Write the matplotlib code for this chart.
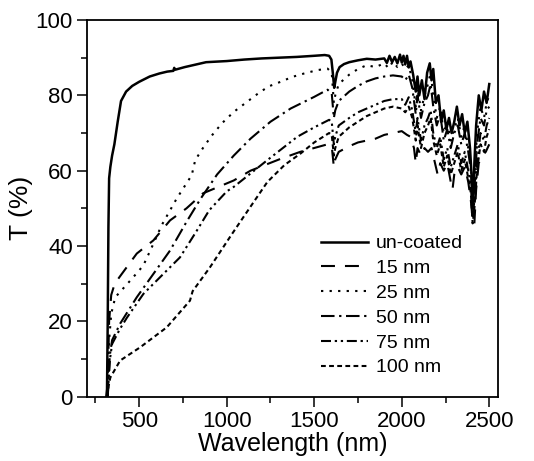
import matplotlib
matplotlib.use('Agg')
import matplotlib.pyplot as plt

plt.rcParams['font.family'] = ['Liberation Sans', 'DejaVu Sans']

# transmittance spectra (wavelength in nm, T in %)
uncoated_wl = [312, 316, 320, 324, 328, 335, 345, 358, 377, 396, 425, 460, 500, 560, 615, 660,
               695, 700, 705, 760, 882, 1000, 1100, 1200, 1300, 1400, 1500, 1560, 1585, 1598,
               1606, 1614, 1620, 1630, 1645, 1670, 1700, 1750, 1800, 1850, 1900, 1915, 1930, 1945,
               1960, 1975, 1990, 2000, 2010, 2020, 2030, 2040, 2050, 2065, 2080, 2090, 2100, 2115,
               2130, 2145, 2160, 2170, 2180, 2195, 2210, 2225, 2240, 2255, 2270, 2285, 2300, 2315,
               2330, 2345, 2360, 2375, 2390, 2400, 2408, 2415, 2425, 2440, 2455, 2470, 2485, 2500]
uncoated_t = [0, 2, 20, 45, 58, 61, 64, 67, 73, 78.5, 81, 82.5, 83.6, 85, 85.8, 86.3,
              86.5, 87.3, 86.8, 87.5, 88.8, 89.1, 89.5, 89.8, 90, 90.2, 90.5, 90.7, 90.5, 89.5,
              86, 82, 83.5, 86, 87.5, 88.3, 88.8, 89.3, 89.7, 89.5, 89.8, 88.6, 90.5, 88.8,
              90.2, 88.5, 90.8, 88.7, 90.5, 88.2, 90.5, 87.4, 89, 85.5, 81, 85, 80, 84,
              79, 86, 88.5, 84, 87, 78, 80, 73, 76, 71, 74, 70, 73, 77,
              72, 75, 70, 73, 66, 58, 50, 62, 72, 80, 76, 81, 78, 83]

nm15_wl = [318, 322, 328, 340, 360, 391, 486, 581, 676, 770, 865, 1040, 1136, 1300, 1420, 1576,
           1600, 1612, 1620, 1640, 1700, 1750, 1800, 1850, 1900, 1950, 2000, 2030, 2050, 2070,
           2080, 2090, 2110, 2130, 2150, 2170, 2190, 2205, 2220, 2240, 2260, 2280, 2290, 2300,
           2320, 2340, 2360, 2380, 2395, 2405, 2415, 2425, 2440, 2460, 2480, 2500]
nm15_t = [0, 8, 20, 27, 30, 32, 38, 41.5, 46.8, 50, 54, 57.4, 60, 63, 65, 67,
          66.5, 61, 63, 65, 66.5, 67.5, 68, 68.5, 69.5, 70, 70.5, 69.5, 69, 66,
          62, 66, 64, 66, 65, 66, 62, 59, 62, 60, 62, 57, 55, 59,
          61, 59, 61, 57, 52, 47, 46, 55, 62, 64, 65, 67]

nm25_wl = [318, 322, 328, 340, 363, 458, 523, 575, 628, 714, 800, 820, 868, 916, 973, 1040,
           1108, 1185, 1241, 1308, 1375, 1442, 1518, 1576, 1600, 1612, 1620, 1640, 1700, 1750,
           1800, 1850, 1900, 1925, 1950, 1975, 2000, 2020, 2040, 2060, 2080, 2090, 2110, 2130,
           2150, 2165, 2180, 2200, 2220, 2240, 2260, 2280, 2300, 2320, 2340, 2360, 2380, 2395,
           2405, 2415, 2430, 2450, 2470, 2485, 2500]
nm25_t = [0, 8, 15, 22, 26.4, 31.3, 34.8, 40, 45.5, 52.6, 58.8, 62.8, 66.3, 69.4, 72.6, 75.6,
          78, 80.7, 82.4, 83.6, 84.9, 85.8, 86.7, 87.1, 86, 78, 80, 83, 85.5, 87,
          88, 87.5, 88.5, 87.2, 89, 87.5, 88.5, 87, 88, 84, 77, 82, 76, 80,
          83, 86, 80, 74, 77, 70, 73, 68, 71, 74, 69, 72, 66, 62,
          52, 58, 70, 77, 74, 78, 80]

nm50_wl = [320, 326, 332, 345, 391, 486, 581, 676, 770, 850, 945, 1040, 1136, 1250, 1365, 1500,
           1576, 1600, 1612, 1620, 1640, 1700, 1750, 1800, 1850, 1900, 1950, 2000, 2020, 2040,
           2060, 2080, 2090, 2110, 2130, 2150, 2165, 2180, 2200, 2220, 2240, 2260, 2280, 2300,
           2320, 2340, 2360, 2380, 2395, 2405, 2415, 2430, 2450, 2470, 2485, 2500]
nm50_t = [0, 6, 11, 15, 19.4, 26.4, 32.6, 38.8, 46.4, 52.5, 59, 64, 68.5, 73, 76.5, 79.6,
          81.5, 80.5, 74, 76, 78.5, 81, 82.5, 83.7, 84.5, 85, 85.3, 85, 84, 85.5,
          82, 75, 80, 74, 78, 80, 83, 77, 72, 75, 68, 71, 66, 70,
          72, 67, 70, 65, 60, 50, 55, 67, 74, 72, 76, 77]

nm75_wl = [320, 326, 333, 345, 390, 430, 524, 638, 733, 828, 900, 1000, 1040, 1232, 1403, 1500,
           1585, 1600, 1612, 1620, 1640, 1700, 1750, 1800, 1850, 1900, 1950, 2000, 2020, 2040,
           2060, 2080, 2090, 2110, 2130, 2150, 2165, 2180, 2200, 2220, 2240, 2260, 2280, 2300,
           2320, 2340, 2360, 2380, 2395, 2405, 2415, 2430, 2450, 2470, 2485, 2500]
nm75_t = [0, 5, 10, 14, 18, 21, 27.3, 32.6, 37, 44, 49.5, 54.5, 55.7, 62.8, 69, 71.5,
          73.5, 73, 67, 69, 72, 74, 75.5, 76.5, 77.5, 78.5, 79, 79, 77.5, 79.5,
          76, 70, 74, 68, 72, 74, 76, 70, 66, 69, 63, 66, 61, 64,
          67, 62, 65, 60, 56, 48, 52, 62, 70, 68, 72, 74]

nm100_wl = [318, 322, 330, 335, 391, 505, 657, 790, 805, 905, 1020, 1100, 1232, 1330, 1423, 1500,
            1585, 1600, 1612, 1620, 1640, 1700, 1750, 1800, 1850, 1900, 1950, 2000, 2020, 2040,
            2060, 2080, 2090, 2110, 2130, 2150, 2165, 2180, 2200, 2220, 2240, 2260, 2280, 2300,
            2320, 2340, 2360, 2380, 2395, 2405, 2415, 2430, 2450, 2470, 2485, 2500]
nm100_t = [0, 2, 4, 5.1, 9.6, 13.1, 18.4, 25.5, 28, 34.4, 42.5, 48, 57, 61.5, 64.6, 67.5,
           70, 69.5, 64, 66, 69, 71.5, 73, 74.5, 75.5, 76.5, 77, 76.5, 75.5, 77,
           74, 68, 72, 66, 70, 72, 74, 68, 64, 67, 61, 64, 59, 62,
           65, 60, 63, 58, 54, 46, 50, 60, 67, 65, 69, 71]

labels = ['un-coated', '15 nm', '25 nm', '50 nm', '75 nm', '100 nm']

fig = plt.figure(figsize=(5.34, 4.61), dpi=100)
ax = fig.add_axes([0.1624, 0.1395, 0.7702, 0.8171])

lw = 1.5
ax.plot(uncoated_wl, uncoated_t, color='black', lw=1.8, ls='-', label=labels[0])
ax.plot(nm15_wl, nm15_t, color='black', lw=lw, ls=(0, (6.7, 4.8)), label=labels[1])
ax.plot(nm25_wl, nm25_t, color='black', lw=lw, ls=(0, (1.1, 3.0)), label=labels[2])
ax.plot(nm50_wl, nm50_t, color='black', lw=lw, ls=(0, (6.5, 2.2, 1.1, 2.2)), label=labels[3])
ax.plot(nm75_wl, nm75_t, color='black', lw=lw, ls=(0, (4.8, 1.8, 1.1, 1.8, 1.1, 1.8)), label=labels[4])
ax.plot(nm100_wl, nm100_t, color='black', lw=lw, ls=(0, (2.3, 1.6)), label=labels[5])

ax.set_xlim(200, 2550)
ax.set_ylim(0, 100)
ax.set_xticks([500, 1000, 1500, 2000, 2500])
ax.set_xticks([250, 750, 1250, 1750, 2250], minor=True)
ax.set_yticks([0, 20, 40, 60, 80, 100])
ax.set_yticks([10, 30, 50, 70, 90], minor=True)
ax.tick_params(which='major', direction='out', length=7, width=1.1, labelsize=16, pad=3)
ax.tick_params(which='minor', direction='out', length=4.5, width=1.1)
ax.tick_params(top=False, right=False)
for s in ax.spines.values():
    s.set_linewidth(1.3)

ax.set_xlabel('Wavelength (nm)', fontsize=18, labelpad=0)
ax.set_ylabel('T (%)', fontsize=19, labelpad=2)

ax.legend(loc='upper left', bbox_to_anchor=(0.57, 0.43), frameon=False, fontsize=14,
          handlelength=2.4, handletextpad=0.4, labelspacing=0.37, borderpad=0, borderaxespad=0)

fig.savefig('out.png', dpi=100)
